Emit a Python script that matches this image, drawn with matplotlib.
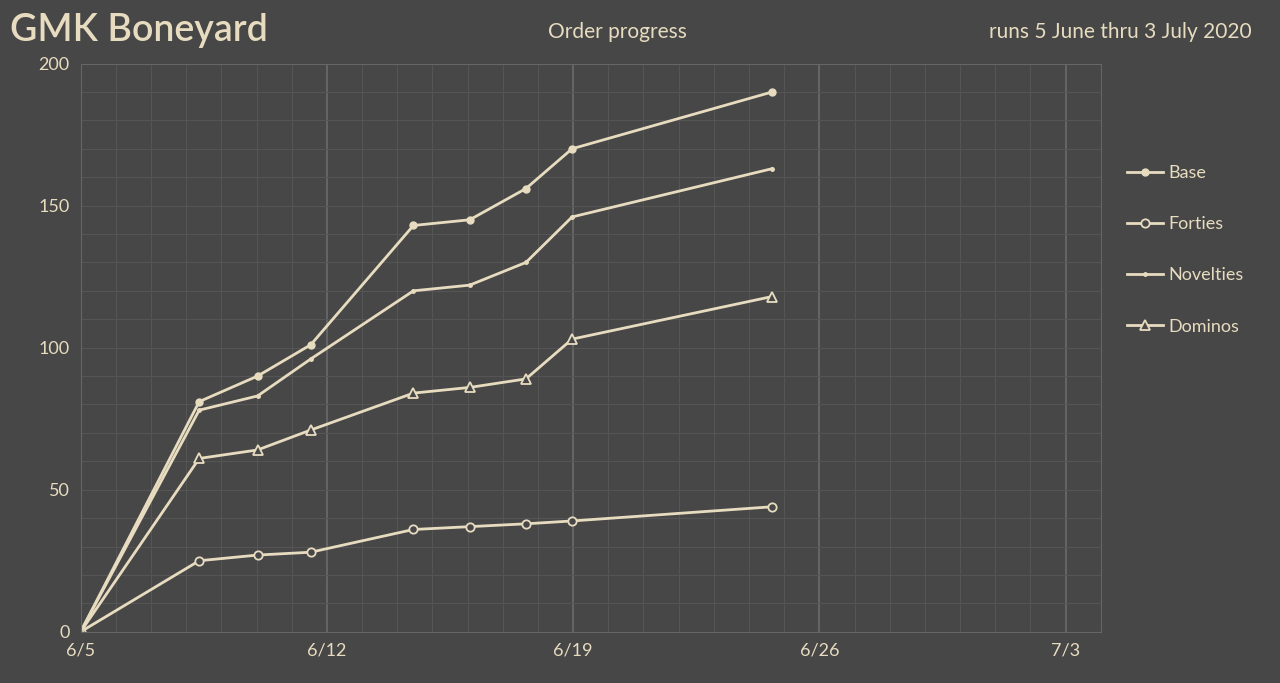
import matplotlib
matplotlib.use("Agg")
import matplotlib.pyplot as plt
from matplotlib.ticker import MultipleLocator

plt.rcParams['font.family'] = ['Lato', 'DejaVu Sans']

# days since 5 June
days = [0, 3.37, 5.03, 6.54, 9.46, 11.06, 12.66, 13.97, 19.66]
base = [0, 81, 90, 101, 143, 145, 156, 170, 190]
forties = [0, 25, 27, 28, 36, 37, 38, 39, 44]
novelties = [0, 78, 83, 96, 120, 122, 130, 146, 163]
dominos = [0, 61, 64, 71, 84, 86, 89, 103, 118]
tick_days = [0, 7, 14, 21, 28]
tick_labels = ["6/5", "6/12", "6/19", "6/26", "7/3"]

bg = "#474747"
fg = "#e8dcc0"

fig = plt.figure(figsize=(12.8, 6.83), dpi=100, facecolor=bg)
ax = fig.add_axes([0.063, 0.075, 0.797, 0.832], facecolor=bg)

ax.plot(days, base, color=fg, lw=2, marker="o", ms=5, label="Base")
ax.plot(days, forties, color=fg, lw=2, marker="o", ms=6, mfc=bg, mew=1.3, label="Forties")
ax.plot(days, novelties, color=fg, lw=2, marker="o", ms=2.5, label="Novelties")
ax.plot(days, dominos, color=fg, lw=2, marker="^", ms=7, mfc=bg, mew=1.3, label="Dominos")

ax.set_xlim(0, 29)
ax.set_ylim(0, 200)
ax.set_xticks(tick_days)
ax.set_xticklabels(tick_labels)
ax.xaxis.set_minor_locator(MultipleLocator(1))
ax.yaxis.set_major_locator(MultipleLocator(50))
ax.yaxis.set_minor_locator(MultipleLocator(10))
ax.grid(which="major", axis="x", color="#6a6a6a", lw=1.2)
ax.grid(which="minor", color="#555555", lw=0.8)
ax.grid(which="major", axis="y", color="#555555", lw=0.8)
ax.set_axisbelow(True)
for s in ax.spines.values():
    s.set_color("#666666")
ax.tick_params(colors=fg, labelsize=13, length=0, pad=8)
ax.tick_params(which="minor", length=0)

leg = ax.legend(loc="upper left", bbox_to_anchor=(1.01, 0.85), frameon=False,
                labelspacing=1.95, fontsize=13, handlelength=2, handletextpad=0.3)
for t in leg.get_texts():
    t.set_color(fg)

fig.text(0.008, 0.955, "GMK Boneyard", color=fg, fontsize=27, fontweight="semibold", va="center")
fig.text(0.482, 0.953, "Order progress", color=fg, fontsize=15, ha="center", va="center")
fig.text(0.978, 0.953, "runs 5 June thru 3 July 2020", color=fg, fontsize=15, ha="right", va="center")

fig.savefig("out.png", dpi=100, facecolor=bg)
